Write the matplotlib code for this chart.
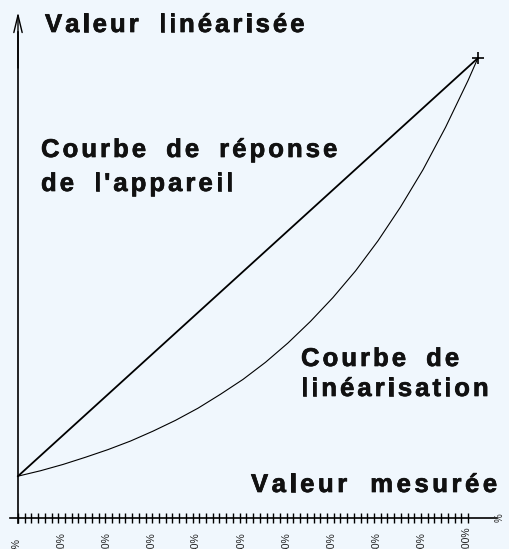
import numpy as np
import matplotlib
matplotlib.use("Agg")
import matplotlib.pyplot as plt
from matplotlib.transforms import Affine2D
from matplotlib import font_manager
import matplotlib.patheffects as pe
from matplotlib.ft2font import FT2Font

# measured value (%) -> linearised value (%)
reponse_x = [0, 102.2]
reponse_y = [9.3, 102.2]

lin_x = [0, 5, 10, 15, 20, 25, 30, 35, 40, 45, 50, 55, 60, 65, 70, 75, 80, 85, 90, 95, 100, 102.2]
lin_y = [9.3, 10.5, 11.9, 13.5, 15.2, 17.1, 19.3, 21.7, 24.4, 27.5, 30.8, 34.6, 38.9, 43.7,
         49.0, 54.9, 61.6, 69.1, 77.4, 86.8, 97.2, 102.2]

tick_labels = ["0%", "10%", "20%", "30%", "40%", "50%", "60%", "70%", "80%", "90%", "100%"]
tick_values = [0, 10, 20, 30, 40, 50, 60, 70, 80, 90, 100]

W, H = 509, 549
fig = plt.figure(figsize=(W / 100, H / 100), dpi=100)
fig.patch.set_facecolor("#f0f7fd")

# axes laid out so that 1% = 4.5 px, origin at px (18, 518)
ax = fig.add_axes([0, 0, 1, 1])
ax.set_facecolor("none")
ax.set_xlim(-18 / 4.5, (W - 18) / 4.5)
ax.set_ylim(-(H - 518) / 4.5, 518 / 4.5)

ax.plot(reponse_x, reponse_y, color="black", lw=1.3)
ax.plot(lin_x, lin_y, color="black", lw=0.8)
ax.plot(reponse_x[-1], reponse_y[-1], marker="+", color="black", ms=8, mew=1.2)

for s in ["top", "right"]:
    ax.spines[s].set_visible(False)
ax.spines["left"].set_position(("data", 0))
ax.spines["bottom"].set_position(("data", 0))
ax.spines["left"].set_bounds(-1.1, 108)
ax.spines["bottom"].set_bounds(-1.8, 106.5)
ax.spines["left"].set_linewidth(1.2)
ax.spines["bottom"].set_linewidth(1.2)
ax.set_yticks([])
ax.set_xticks(np.linspace(0, 100, 68))
ax.tick_params(axis="x", direction="inout", length=6.5, width=1.0, labelbottom=False)

# arrow head on the vertical axis
ax.annotate("", xy=(0, 112.4), xytext=(0, 100),
            arrowprops=dict(arrowstyle="->, head_length=1.25, head_width=0.3", lw=1.0, color="black",
                            shrinkA=0, shrinkB=0))

for v, lab in zip(tick_values, tick_labels):
    ax.text(v - 0.4, -7.8, lab, rotation=90, ha="center", va="bottom", fontsize=7.5,
            family="Liberation Sans", color="#222222", clip_on=False)
ax.text(107.0, 0, "%", rotation=90, ha="center", va="center", fontsize=7,
        family="Liberation Sans", color="#333333")

# bold labels with extra letter spacing, placed in image pixels (y from top)
px = Affine2D().scale(1, -1).translate(0, H)
prop = font_manager.FontProperties(family="Liberation Sans", weight="bold", size=18.5)
ft = FT2Font(font_manager.findfont(prop))
ft.set_size(18.5, 100)
thick = [pe.withStroke(linewidth=0.5, foreground="#111111")]


def spaced(x, y, s, gap=3.0, space=14):
    for ch in s:
        if ch == " ":
            x += space + gap
            continue
        fig.text(x, y, ch, transform=px, fontproperties=prop,
                 ha="left", va="baseline", color="#111111", path_effects=thick)
        g = ft.load_char(ord(ch))
        x += g.linearHoriAdvance / 65536 + gap


spaced(45, 32, "Valeur linéarisée")
spaced(41, 157, "Courbe de réponse")
spaced(41, 191, "de l'appareil")
spaced(301, 366, "Courbe de")
spaced(301, 396, "linéarisation")
spaced(251, 492, "Valeur mesurée", gap=3.5, space=16)

fig.savefig("out.png", dpi=100, facecolor=fig.get_facecolor())
